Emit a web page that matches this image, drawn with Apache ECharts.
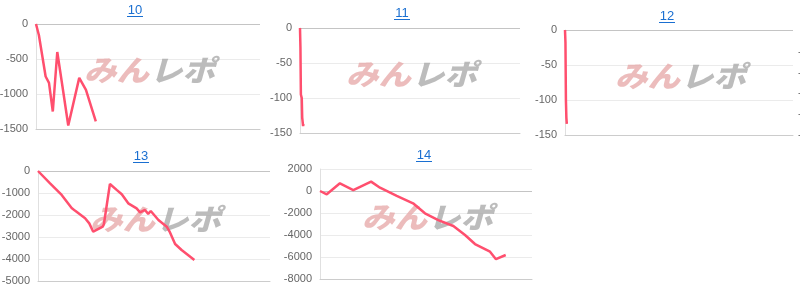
<!DOCTYPE html>
<html>
<head>
<meta charset="utf-8">
<script src="https://cdn.jsdelivr.net/npm/echarts@6/dist/echarts.min.js"></script>
<style>
html,body{margin:0;padding:0;background:#fff;}
#chart{width:800px;height:292px;}
</style>
</head>
<body>
<div id="chart"></div>
<script>
// ---- data (x = estimated game count on a 0..1000 hidden axis, y = coin difference) ----
const titles = ['10', '11', '12', '13', '14'];

const x10 = [0, 13, 43, 58, 75, 95, 119, 144, 193, 223, 267];
const y10 = [0, -160, -750, -840, -1250, -400, -910, -1450, -770, -940, -1390];

const x11 = [0, 2, 4, 8, 10, 14, 16];
const y11 = [0, -28, -95, -100, -128, -140, -137];

const x12 = [0, 2, 4, 6, 8];
const y12 = [0, -18, -100, -125, -134];

const x13 = [0, 52, 102, 145, 159, 203, 221, 238, 279, 284, 310, 339, 361, 389, 425, 440, 461, 475, 486, 519, 555, 569, 591, 619, 674];
const y13 = [0, -560, -1090, -1680, -1800, -2150, -2380, -2760, -2530, -2420, -590, -860, -1060, -1470, -1700, -1880, -1770, -1950, -1820, -2230, -2530, -2790, -3320, -3590, -4050];

const x14 = [0, 32, 94, 157, 241, 283, 362, 439, 495, 558, 629, 684, 731, 802, 830, 876];
const y14 = [0, -300, 700, 90, 850, 300, -450, -1120, -2030, -2640, -3180, -4000, -4820, -5520, -6200, -5820];

// y-axis tick settings per panel
const yMins = [-1500, -150, -150, -5000, -8000];
const yMaxs = [0, 0, 0, 0, 2000];
const yIntervals = [500, 50, 50, 1000, 2000];

const xs = [x10, x11, x12, x13, x14];
const ys = [y10, y11, y12, y13, y14];

// ---- layout (pixels) ----
const layout = [
  {left: 36,  top: 24,  width: 224, height: 105, tx: 135, ty: 10},
  {left: 300, top: 28,  width: 220, height: 105, tx: 402, ty: 13},
  {left: 565, top: 30,  width: 228, height: 105, tx: 667, ty: 16},
  {left: 38,  top: 171, width: 232, height: 110, tx: 141, ty: 156},
  {left: 320, top: 169, width: 212, height: 110, tx: 424, ty: 155}
];

const LINE = '#ff4f6e';
const LABEL = '#666';
const FONT = '"Liberation Sans", Arial, sans-serif';
const plain = v => String(v);

const grids = [], xAxes = [], yAxes = [], series = [], graphics = [];

layout.forEach((L, i) => {
  grids.push({left: L.left, top: L.top, width: L.width, height: L.height, containLabel: false, outerBoundsMode: 'none'});
  xAxes.push({
    type: 'value', gridIndex: i, min: 0, max: 1000,
    axisLine: {show: true, onZero: false, lineStyle: {color: '#ccc', width: 1}},
    axisTick: {show: false}, axisLabel: {show: false}, splitLine: {show: false}
  });
  yAxes.push({
    type: 'value', gridIndex: i, min: yMins[i], max: yMaxs[i], interval: yIntervals[i],
    axisLine: {show: true, lineStyle: {color: '#e0e0e0'}},
    axisTick: {show: false},
    axisLabel: {color: LABEL, fontSize: 11, fontFamily: FONT, margin: 8, formatter: plain},
    splitLine: {show: true, lineStyle: {color: '#ebebeb', width: 1}}
  });
  series.push({
    type: 'line', xAxisIndex: i, yAxisIndex: i,
    data: xs[i].map((x, k) => [x, ys[i][k]]),
    showSymbol: false, symbol: 'none',
    lineStyle: {color: LINE, width: 2.5},
    itemStyle: {color: LINE},
    animation: false, z: 5,
    markLine: {
      silent: true, symbol: 'none', label: {show: false},
      lineStyle: {color: '#c4c4c4', type: 'solid', width: 1},
      data: [{yAxis: 0}], animation: false
    }
  });
  // title as link-like text with underline
  graphics.push({
    type: 'text', x: L.tx, y: L.ty, z: 10,
    style: {text: titles[i], fill: '#1a6fd1', font: '13px ' + FONT, textAlign: 'center', textVerticalAlign: 'middle'}
  });
  graphics.push({
    type: 'line', z: 10,
    shape: {x1: L.tx - 8, y1: L.ty + 6.5, x2: L.tx + 8, y2: L.ty + 6.5},
    style: {stroke: '#1a6fd1', lineWidth: 1}
  });
  // watermark
  const cx = L.left + L.width / 2 + 1;
  const cy = L.top + L.height / 2 - 7;
  graphics.push({
    type: 'text', x: cx, y: cy, z: 1, scaleX: 1.12,
    style: {text: 'みん', fill: 'rgba(230,165,165,0.75)', font: 'italic 900 29px "Noto Sans CJK JP"', textAlign: 'right', textVerticalAlign: 'middle'}
  });
  graphics.push({
    type: 'text', x: cx + 1, y: cy, z: 1, scaleX: 1.12,
    style: {text: 'レポ', fill: 'rgba(165,165,165,0.75)', font: 'italic 900 29px "Noto Sans CJK JP"', textAlign: 'left', textVerticalAlign: 'middle'}
  });
});

// partially visible next panel at the right edge
grids.push({left: 828, top: 31, width: 200, height: 104, outerBoundsMode: 'none'});
xAxes.push({type: 'value', gridIndex: 5, min: 0, max: 1000, show: false});
yAxes.push({
  type: 'value', gridIndex: 5, min: -500, max: 0, interval: 100,
  axisLine: {show: false}, axisTick: {show: false},
  axisLabel: {color: LABEL, fontSize: 11, fontFamily: FONT, margin: 8, formatter: plain},
  splitLine: {show: false}
});

const chart = echarts.init(document.getElementById('chart'), null, {renderer: 'canvas'});
chart.setOption({
  animation: false,
  grid: grids, xAxis: xAxes, yAxis: yAxes, series: series,
  graphic: graphics
});
</script>
</body>
</html>
